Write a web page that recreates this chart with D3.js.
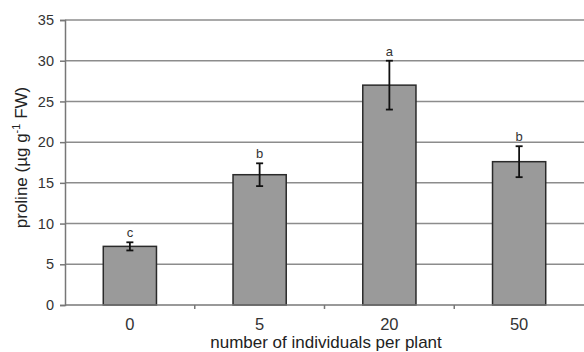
<!DOCTYPE html>
<html>
<head>
<meta charset="utf-8">
<script src="https://cdn.jsdelivr.net/npm/d3@7"></script>
<style>
	body { margin: 0; background: #fff; }
	svg text { font-family: "Liberation Sans", Arial, sans-serif; fill: #222; }
</style>
</head>
<body>
<svg id="chart" width="584" height="352"></svg>
<script>
const categories = ["0", "5", "20", "50"];
const proline = [7.2, 16.0, 27.0, 17.6];
const errors = [0.5, 1.4, 3.0, 1.9];
const letters = ["c", "b", "a", "b"];
const yTicks = [0, 5, 10, 15, 20, 25, 30, 35];

const WIDTH = 584,
	HEIGHT = 352,
	MARGINS = { top: 20, right: 0, bottom: 47, left: 65 };

let vis = d3.select("#chart");

let xScale = d3.scaleBand()
	.domain(categories)
	.range([MARGINS.left, WIDTH - MARGINS.right])
	.paddingInner(0.59)
	.paddingOuter(0.295);

let yScale = d3.scaleLinear()
	.domain([0, 35])
	.range([HEIGHT - MARGINS.bottom, MARGINS.top]);

// gridlines
vis.append("g")
	.selectAll("line")
	.data(yTicks.slice(1))
	.join("line")
	.attr("x1", MARGINS.left)
	.attr("x2", WIDTH)
	.attr("y1", d => yScale(d))
	.attr("y2", d => yScale(d))
	.attr("stroke", "#8c8c8c")
	.attr("stroke-width", 1.5);

// y axis
let yAxis = vis.append("g")
	.attr("transform", "translate(" + MARGINS.left + ",0)")
	.call(d3.axisLeft(yScale).tickValues(yTicks).tickSize(5).tickPadding(6));
yAxis.selectAll("line, path").attr("stroke", "#777").attr("stroke-width", 1.5);
yAxis.selectAll("text").attr("font-size", 14.5).style("fill", "#333");

// bars
vis.append("g")
	.selectAll("rect")
	.data(proline)
	.join("rect")
	.attr("x", (d, i) => xScale(categories[i]))
	.attr("y", d => yScale(d))
	.attr("width", xScale.bandwidth())
	.attr("height", d => yScale(0) - yScale(d))
	.attr("fill", "#9a9a9a")
	.attr("stroke", "#2a2a2a")
	.attr("stroke-width", 1.5);

// x axis line and ticks between groups
let step = xScale.step();
vis.append("line")
	.attr("x1", MARGINS.left)
	.attr("x2", WIDTH)
	.attr("y1", yScale(0))
	.attr("y2", yScale(0))
	.attr("stroke", "#777")
	.attr("stroke-width", 1.5);
vis.append("g")
	.selectAll("line")
	.data(categories.slice(1))
	.join("line")
	.attr("x1", d => xScale(d) + xScale.bandwidth() / 2 - step / 2)
	.attr("x2", d => xScale(d) + xScale.bandwidth() / 2 - step / 2)
	.attr("y1", yScale(0))
	.attr("y2", yScale(0) + 4)
	.attr("stroke", "#777")
	.attr("stroke-width", 1.5);

// x tick labels
vis.append("g")
	.selectAll("text")
	.data(categories)
	.join("text")
	.attr("x", d => xScale(d) + xScale.bandwidth() / 2)
	.attr("y", yScale(0) + 25)
	.attr("text-anchor", "middle")
	.attr("font-size", 16.5)
	.style("fill", "#333")
	.text(d => d);

// error bars
let eb = vis.append("g").attr("stroke", "#111").attr("stroke-width", 1.8);
proline.forEach(function (v, i) {
	let cx = xScale(categories[i]) + xScale.bandwidth() / 2;
	eb.append("line")
		.attr("x1", cx).attr("x2", cx)
		.attr("y1", yScale(v + errors[i])).attr("y2", yScale(v - errors[i]));
	[v + errors[i], v - errors[i]].forEach(function (e) {
		eb.append("line")
			.attr("x1", cx - 3.5).attr("x2", cx + 3.5)
			.attr("y1", yScale(e)).attr("y2", yScale(e));
	});
});

// significance letters
vis.append("g")
	.selectAll("text")
	.data(letters)
	.join("text")
	.attr("x", (d, i) => xScale(categories[i]) + xScale.bandwidth() / 2)
	.attr("y", (d, i) => yScale(proline[i] + errors[i]) - 5)
	.attr("text-anchor", "middle")
	.attr("font-size", 13)
	.style("fill", "#333")
	.text(d => d);

// axis titles
vis.append("text")
	.attr("x", 326)
	.attr("y", HEIGHT - 4)
	.attr("text-anchor", "middle")
	.attr("font-size", 17)
	.style("fill", "#222")
	.text("number of individuals per plant");

let yLabel = vis.append("text")
	.attr("transform", "translate(27," + (yScale(17.5) - 5) + ") rotate(-90)")
	.attr("text-anchor", "middle")
	.attr("font-size", 17)
	.style("fill", "#222");
yLabel.append("tspan").text("proline (µg g");
yLabel.append("tspan").attr("dy", -7).attr("font-size", 11).text("-1");
yLabel.append("tspan").attr("dy", 7).text(" FW)");
</script>
</body>
</html>
